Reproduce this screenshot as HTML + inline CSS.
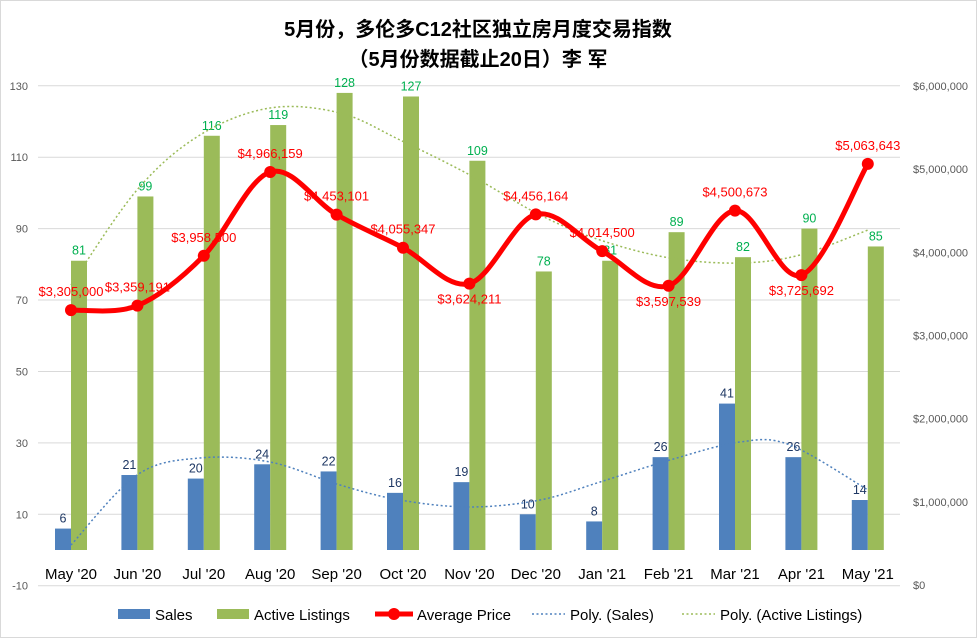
<!DOCTYPE html>
<html><head><meta charset="utf-8"><style>
body{margin:0;background:#fff}
svg{display:block;font-family:"Liberation Sans","Noto Sans CJK SC",sans-serif}
</style></head><body>
<svg id="s" width="977" height="638" viewBox="0 0 977 638" xmlns="http://www.w3.org/2000/svg">
<rect x="0.5" y="0.5" width="976" height="637" fill="#fff" stroke="#d9d9d9"/>
<text x="478" y="36" text-anchor="middle" font-size="20" font-weight="bold" fill="#000">5月份，多伦多C12社区独立房月度交易指数</text>
<text x="478" y="66" text-anchor="middle" font-size="20" font-weight="bold" fill="#000">（5月份数据截止20日）李 军</text>
</svg>
<script>
const s=document.getElementById('s');
let h='';
const yL=v=>550-v*3.571, yR=p=>585-p*83.17e-6;
for(let v=-10;v<=130;v+=20){const y=yL(v);h+=`<line x1="38" x2="900" y1="${y}" y2="${y}" stroke="#d9d9d9"/><text x="28" y="${y+4}" text-anchor="end" font-size="11" fill="#595959">${v}</text>`;}
const rl=['$0','$1,000,000','$2,000,000','$3,000,000','$4,000,000','$5,000,000','$6,000,000'];
rl.forEach((t,i)=>{h+=`<text x="913" y="${yR(i*1e6)+4}" font-size="11" fill="#595959">${t}</text>`;});
const cats=["May '20","Jun '20","Jul '20","Aug '20","Sep '20","Oct '20","Nov '20","Dec '20","Jan '21","Feb '21","Mar '21","Apr '21","May '21"];
const sales=[6,21,20,24,22,16,19,10,8,26,41,26,14];
const act=[81,99,116,119,128,127,109,78,81,89,82,90,85];
const pr=[3305000,3359191,3958500,4966159,4453101,4055347,3624211,4456164,4014500,3597539,4500673,3725692,5063643];
const cx=i=>71+i*66.4;
cats.forEach((c,i)=>{const x=cx(i);
h+=`<rect x="${x-16}" y="${yL(sales[i])}" width="16" height="${sales[i]*3.571}" fill="#4f81bd"/>`;
h+=`<rect x="${x}" y="${yL(act[i])}" width="16" height="${act[i]*3.571}" fill="#9bbb59"/>`;
h+=`<text x="${x-8}" y="${yL(sales[i])-6}" text-anchor="middle" font-size="12.5" fill="#1f3864">${sales[i]}</text>`;
h+=`<text x="${x+8}" y="${yL(act[i])-6}" text-anchor="middle" font-size="12.5" fill="#00b050">${act[i]}</text>`;
h+=`<text x="${x}" y="579" text-anchor="middle" font-size="15" fill="#000">${c}</text>`;});
function smooth(pts){let d=`M${pts[0][0]},${pts[0][1]}`;for(let i=0;i<pts.length-1;i++){const p0=pts[i-1]||pts[i],p1=pts[i],p2=pts[i+1],p3=pts[i+2]||p2;
d+=` C${p1[0]+(p2[0]-p0[0])/6},${p1[1]+(p2[1]-p0[1])/6} ${p2[0]-(p3[0]-p1[0])/6},${p2[1]-(p3[1]-p1[1])/6} ${p2[0]},${p2[1]}`;}return d;}
const sp=[[71,545],[137,475],[200,458],[270,462],[340,485],[400,500],[470,507],[540,500],[600,482],[670,460],[740,442],[790,445],[868,490]];
const lp=[[71,285],[137,190],[200,135],[270,108],[340,113],[400,140],[470,175],[540,215],[600,240],[670,258],[740,263],[800,255],[868,230]];
h+=`<path d="${smooth(sp)}" fill="none" stroke="#4f81bd" stroke-width="1.5" stroke-dasharray="2,2.5"/>`;
h+=`<path d="${smooth(lp)}" fill="none" stroke="#9bbb59" stroke-width="1.5" stroke-dasharray="2,2.5"/>`;
const pp=pr.map((p,i)=>[cx(i),yR(p)]);
h+=`<path d="${smooth(pp)}" fill="none" stroke="#ff0000" stroke-width="5"/>`;
pp.forEach((p,i)=>{h+=`<circle cx="${p[0]}" cy="${p[1]}" r="6" fill="#ff0000"/>`;});
const lab=['$3,305,000','$3,359,191','$3,958,500','$4,966,159','$4,453,101','$4,055,347','$3,624,211','$4,456,164','$4,014,500','$3,597,539','$4,500,673','$3,725,692','$5,063,643'];
const off=[-18,-18,-18,-18,-18,-18,16,-18,-18,16,-18,16,-18];
pp.forEach((p,i)=>{h+=`<text x="${p[0]}" y="${p[1]+off[i]+4}" text-anchor="middle" font-size="13" fill="#ff0000">${lab[i]}</text>`;});
h+=`<rect x="118" y="609" width="32" height="10" fill="#4f81bd"/><text x="155" y="620" font-size="15">Sales</text>`;
h+=`<rect x="217" y="609" width="32" height="10" fill="#9bbb59"/><text x="254" y="620" font-size="15">Active Listings</text>`;
h+=`<line x1="375" x2="413" y1="614" y2="614" stroke="#f00" stroke-width="5"/><circle cx="394" cy="614" r="6" fill="#f00"/><text x="417" y="620" font-size="15">Average Price</text>`;
h+=`<line x1="532" x2="565" y1="614" y2="614" stroke="#4f81bd" stroke-width="1.5" stroke-dasharray="2,2.5"/><text x="570" y="620" font-size="15">Poly. (Sales)</text>`;
h+=`<line x1="682" x2="715" y1="614" y2="614" stroke="#9bbb59" stroke-width="1.5" stroke-dasharray="2,2.5"/><text x="720" y="620" font-size="15">Poly. (Active Listings)</text>`;
s.insertAdjacentHTML('beforeend',h);
</script>
</body></html>
